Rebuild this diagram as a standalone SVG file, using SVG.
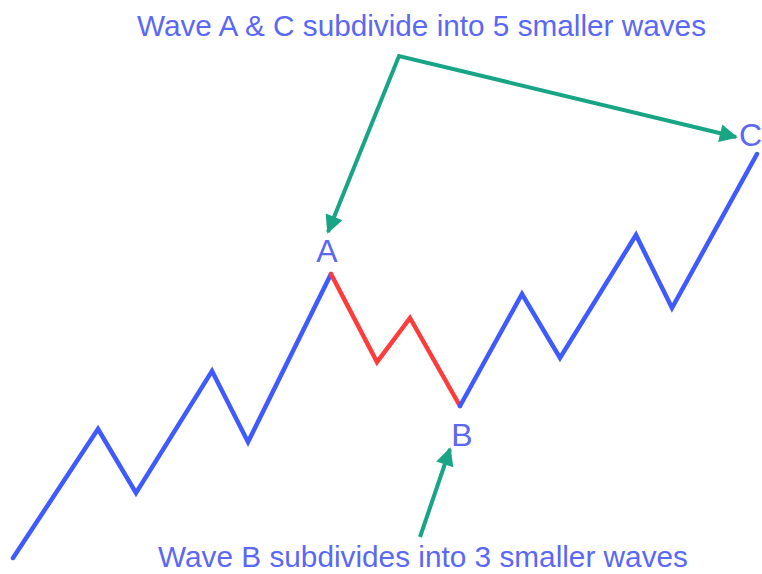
<svg xmlns="http://www.w3.org/2000/svg" width="762" height="574" viewBox="0 0 762 574">
<defs>
<style>
.lbl{font-family:"Liberation Sans",Arial,sans-serif;fill:#5a68f5;}
.big{font-size:32px;}
.cap{font-size:29.5px;}
.blue{fill:none;stroke:#3f5bff;stroke-width:4.5;stroke-linejoin:miter;stroke-linecap:round;}
.red{fill:none;stroke:#ff3c3c;stroke-width:4.5;stroke-linejoin:miter;stroke-linecap:round;}
.conn{fill:none;stroke:#17a585;stroke-width:4;stroke-linejoin:miter;}
</style>
<marker id="ah" viewBox="0 0 10 10" refX="9" refY="5" markerWidth="20" markerHeight="18" markerUnits="userSpaceOnUse" orient="auto-start-reverse">
<path d="M0,0 L10,5 L0,10 z" fill="#17a585"/>
</marker>
</defs>
<rect width="762" height="574" fill="#ffffff"/>
<g id="waves">
<polyline class="blue" points="13,558 98,429 136,493 212,371 248,442 331,274"/>
<polyline class="red" points="331,274 377,362 410,318 460,406"/>
<polyline class="blue" points="460,406 522,294 560,358 636,235 672,308 757,154"/>
</g>
<g id="label-A"><text class="lbl big" x="327" y="262" text-anchor="middle">A</text></g>
<g id="label-B"><text class="lbl big" x="462" y="446" text-anchor="middle">B</text></g>
<g id="label-C"><text class="lbl big" x="739" y="146">C</text></g>
<g id="caption-top"><text class="lbl cap" x="137" y="36" textLength="569" lengthAdjust="spacingAndGlyphs">Wave A &amp; C subdivide into 5 smaller waves</text></g>
<g id="caption-bottom"><text class="lbl cap" x="158" y="567" textLength="530" lengthAdjust="spacingAndGlyphs">Wave B subdivides into 3 smaller waves</text></g>
<g id="connectors">
<polyline class="conn" points="328,232 399,56 736,137" marker-start="url(#ah)" marker-end="url(#ah)"/>
<line class="conn" x1="420" y1="537" x2="450" y2="449" marker-end="url(#ah)"/>
</g>
</svg>
